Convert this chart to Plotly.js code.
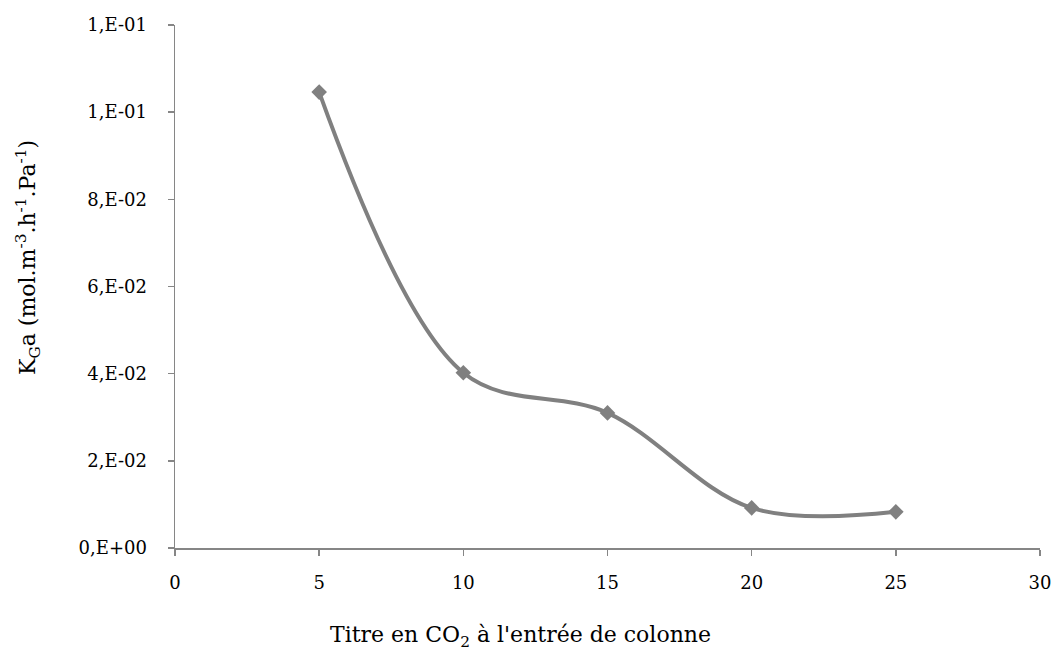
<!DOCTYPE html>
<html>
<head>
<meta charset="utf-8">
<script src="https://cdn.plot.ly/plotly-3.0.1.min.js"></script>
<style>html,body{margin:0;padding:0;background:#fff;}#chart{width:1055px;height:653px;}</style>
</head>
<body>
<div id="chart"></div>
<script>
const titreCO2 = [5, 10, 15, 20, 25];
const kga = [0.1046, 0.0402, 0.0310, 0.0092, 0.0083];
const yTickVals = [0, 0.02, 0.04, 0.06, 0.08, 0.10, 0.12];
const yTickText = ["0,E+00", "2,E-02", "4,E-02", "6,E-02", "8,E-02", "1,E-01", "1,E-01"];
const xTickVals = [0, 5, 10, 15, 20, 25, 30];

const grey = "#808080";
const tickFont = {family: "DejaVu Serif", size: 18, color: "#000"};
const titleFont = {family: "DejaVu Serif", size: 22, color: "#000"};

const trace = {
  x: titreCO2, y: kga, type: "scatter", mode: "lines+markers",
  line: {color: grey, width: 4, shape: "spline", smoothing: 1},
  marker: {symbol: "diamond", size: 12, color: grey},
  cliponaxis: false, showlegend: false
};

const layout = {
  width: 1055, height: 653,
  margin: {l: 175, r: 15, t: 25, b: 105},
  paper_bgcolor: "#fff", plot_bgcolor: "#fff",
  font: tickFont,
  xaxis: {
    range: [0, 30], tickvals: xTickVals, showgrid: false, zeroline: false,
    showline: true, linecolor: "#868686", linewidth: 1.5,
    ticks: "outside", ticklen: 6, tickcolor: "#868686", tickwidth: 1.5,
    tickfont: tickFont, ticklabelstandoff: 12
  },
  yaxis: {
    range: [0, 0.12], tickvals: yTickVals, ticktext: yTickText, showgrid: false, zeroline: false,
    showline: true, linecolor: "#868686", linewidth: 1.5,
    ticks: "outside", ticklen: 6, tickcolor: "#868686", tickwidth: 1.5,
    tickfont: tickFont, ticklabelstandoff: 17
  },
  annotations: [
    {text: "Titre en CO<sub>2</sub> à l'entrée de colonne", xref: "paper", yref: "paper",
     x: (520 - 175) / 865, y: -(636 - 548) / 523, xanchor: "center", yanchor: "middle",
     showarrow: false, font: titleFont},
    {text: "K<sub>G</sub>a (mol.m<sup>-3</sup>.h<sup>-1</sup>.Pa<sup>-1</sup>)", xref: "paper", yref: "paper",
     x: -(175 - 28) / 865, y: (548 - 258) / 523, xanchor: "center", yanchor: "middle", textangle: -90,
     showarrow: false, font: titleFont}
  ]
};

Plotly.newPlot("chart", [trace], layout, {displayModeBar: false, staticPlot: true});
</script>
</body>
</html>
